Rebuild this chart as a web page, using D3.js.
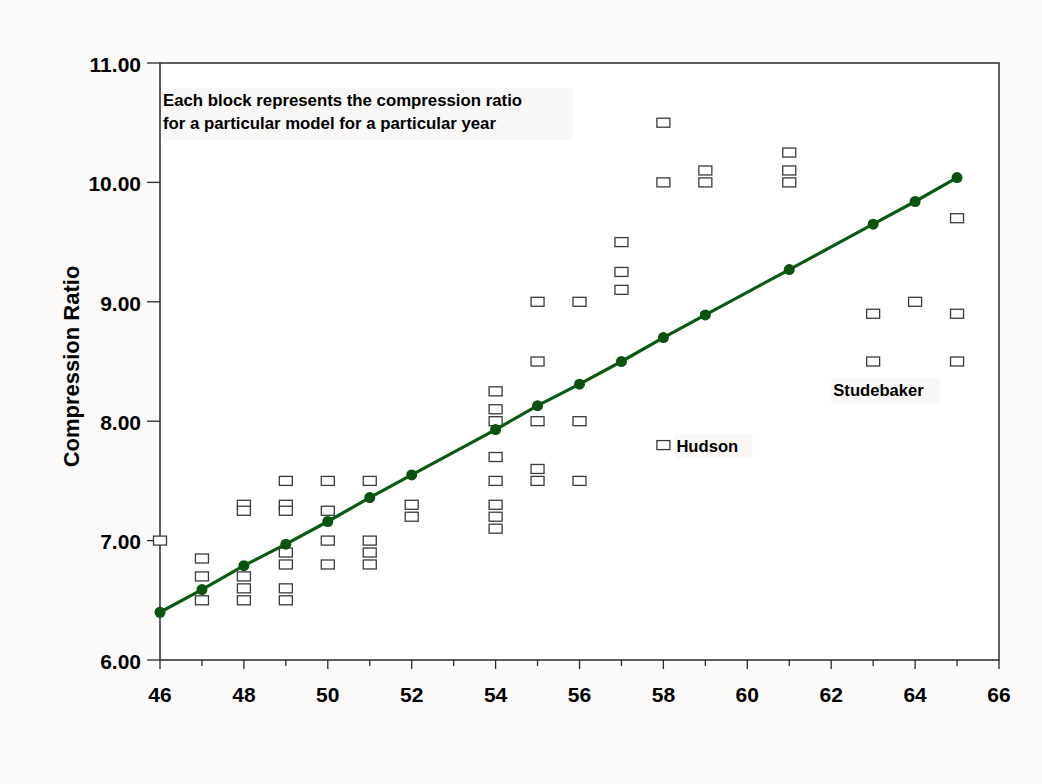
<!DOCTYPE html>
<html>
<head>
<meta charset="utf-8">
<script src="https://cdn.jsdelivr.net/npm/d3@7"></script>
<style>
  body { margin: 0; background: #fbfaf8; }
  svg { display: block; }
</style>
</head>
<body>
<div id="chart"></div>
<script>
// compression ratio per model per year (one entry per block)
const blockYears = [
  46,
  47, 47, 47,
  48, 48, 48, 48, 48,
  49, 49, 49, 49, 49, 49, 49,
  50, 50, 50, 50,
  51, 51, 51, 51,
  52, 52,
  54, 54, 54, 54, 54, 54, 54, 54,
  55, 55, 55, 55, 55,
  56, 56, 56,
  57, 57, 57,
  58, 58, 58,
  59, 59,
  61, 61, 61,
  63, 63,
  64,
  65, 65, 65
];
const blockRatios = [
  7.0,
  6.85, 6.7, 6.5,
  7.3, 7.25, 6.7, 6.6, 6.5,
  7.5, 7.3, 7.25, 6.9, 6.8, 6.6, 6.5,
  7.5, 7.25, 7.0, 6.8,
  7.5, 7.0, 6.9, 6.8,
  7.3, 7.2,
  8.25, 8.1, 8.0, 7.7, 7.5, 7.3, 7.2, 7.1,
  9.0, 8.5, 8.0, 7.6, 7.5,
  9.0, 8.0, 7.5,
  9.5, 9.25, 9.1,
  10.5, 10.0, 7.8,
  10.1, 10.0,
  10.25, 10.1, 10.0,
  8.9, 8.5,
  9.0,
  9.7, 8.9, 8.5
];

// fitted trend line points
const trendYears = [46, 47, 48, 49, 50, 51, 52, 54, 55, 56, 57, 58, 59, 61, 63, 64, 65];
const trendRatios = [6.40, 6.59, 6.79, 6.97, 7.16, 7.36, 7.55, 7.93, 8.13, 8.31, 8.50, 8.70, 8.89, 9.27, 9.65, 9.84, 10.04];

const xTicks = d3.range(46, 67, 1);
const xLabels = [46, 48, 50, 52, 54, 56, 58, 60, 62, 64, 66];
const yTicks = [6, 7, 8, 9, 10, 11];

const noteLines = ['Each block represents the compression ratio', 'for a particular model for a particular year'];
const callouts = [
  { label: 'Hudson', year: 58, ratio: 7.8, side: 'right' },
  { label: 'Studebaker', year: 62.05, ratio: 8.21, side: 'free' }
];

const svgWidth = 1042, svgHeight = 784;
const margin = { top: 63, right: 43, bottom: 124, left: 160 };
const width = svgWidth - margin.left - margin.right;
const height = svgHeight - margin.top - margin.bottom;
const font = 'Liberation Sans, Arial, sans-serif';

const svg = d3.select('#chart').append('svg')
  .attr('width', svgWidth)
  .attr('height', svgHeight);

svg.append('rect')
  .attr('width', svgWidth).attr('height', svgHeight)
  .attr('fill', '#fbfaf8');

const chart = svg.append('g')
  .attr('transform', `translate(${margin.left}, ${margin.top})`);

chart.append('rect')
  .attr('width', width).attr('height', height)
  .attr('fill', '#ffffff');

const xScale = d3.scaleLinear().domain([46, 66]).range([0, width]);
const yScale = d3.scaleLinear().domain([6, 11]).range([height, 0]);

// frame
chart.append('rect')
  .attr('width', width).attr('height', height)
  .attr('fill', 'none')
  .attr('stroke', '#2a2a2a')
  .attr('stroke-width', 1.5);

// x axis with major / minor ticks
const xAxis = chart.append('g')
  .attr('transform', `translate(0, ${height})`);
xAxis.selectAll('line')
  .data(xTicks)
  .enter().append('line')
  .attr('x1', d => xScale(d)).attr('x2', d => xScale(d))
  .attr('y1', 0)
  .attr('y2', d => d % 2 === 0 ? 9 : 6)
  .attr('stroke', '#2a2a2a').attr('stroke-width', 1.3);
xAxis.selectAll('text')
  .data(xLabels)
  .enter().append('text')
  .attr('x', d => xScale(d))
  .attr('y', 42)
  .attr('text-anchor', 'middle')
  .attr('font-family', font)
  .attr('font-weight', 'bold')
  .attr('font-size', '21px')
  .text(d => d);

// y axis
const yAxis = chart.append('g');
yAxis.selectAll('line')
  .data(yTicks)
  .enter().append('line')
  .attr('x1', -13).attr('x2', 0)
  .attr('y1', d => yScale(d)).attr('y2', d => yScale(d))
  .attr('stroke', '#2a2a2a').attr('stroke-width', 1.3);
yAxis.selectAll('text')
  .data(yTicks)
  .enter().append('text')
  .attr('x', -19)
  .attr('y', d => yScale(d))
  .attr('dy', '0.42em')
  .attr('text-anchor', 'end')
  .attr('font-family', font)
  .attr('font-weight', 'bold')
  .attr('font-size', '21px')
  .text(d => d.toFixed(2));

svg.append('text')
  .attr('transform', `translate(79, ${margin.top + height / 2 + 5}) rotate(-90)`)
  .attr('text-anchor', 'middle')
  .attr('font-family', font)
  .attr('font-weight', 'bold')
  .attr('font-size', '22px')
  .text('Compression Ratio');

// note box
const note = chart.append('g').attr('transform', 'translate(1, 25)');
note.append('rect')
  .attr('width', 412).attr('height', 52)
  .attr('fill', '#f9f8f7');
note.selectAll('text')
  .data(noteLines)
  .enter().append('text')
  .attr('x', 2)
  .attr('y', (d, i) => 18 + i * 23)
  .attr('font-family', font)
  .attr('font-weight', 'bold')
  .attr('font-size', '16.8px')
  .text(d => d);

// blocks
const blocks = blockYears.map((y, i) => ({ year: y, ratio: blockRatios[i] }));
chart.selectAll('.block')
  .data(blocks)
  .enter().append('rect')
  .attr('class', 'block')
  .attr('x', d => xScale(d.year) - 6.5)
  .attr('y', d => yScale(d.ratio) - 4.5)
  .attr('width', 13).attr('height', 9)
  .attr('fill', '#ffffff')
  .attr('stroke', '#3a3a3a')
  .attr('stroke-width', 1.3);

// callout labels
callouts.forEach(c => {
  const cx = xScale(c.year), cy = yScale(c.ratio);
  const g = chart.append('g');
  let tx, ty, bw;
  if (c.side === 'right') {
    tx = cx + 13; ty = cy + 6.5; bw = 78;
  } else {
    tx = cx; ty = cy; bw = 109;
  }
  g.append('rect')
    .attr('x', tx - 2).attr('y', ty - 18)
    .attr('width', bw).attr('height', 25)
    .attr('fill', '#f9f8f7');
  g.append('text')
    .attr('x', tx).attr('y', ty)
    .attr('font-family', font)
    .attr('font-weight', 'bold')
    .attr('font-size', '16.6px')
    .text(c.label);
});

// trend line
const trend = trendYears.map((y, i) => ({ year: y, ratio: trendRatios[i] }));
const line = d3.line()
  .curve(d3.curveLinear)
  .x(d => xScale(d.year))
  .y(d => yScale(d.ratio));

chart.append('path')
  .attr('d', line(trend))
  .attr('fill', 'none')
  .attr('stroke', '#0b5a12')
  .attr('stroke-width', 3.2);

chart.selectAll('.pt')
  .data(trend)
  .enter().append('circle')
  .attr('class', 'pt')
  .attr('cx', d => xScale(d.year))
  .attr('cy', d => yScale(d.ratio))
  .attr('r', 5.5)
  .attr('fill', '#0a520f');
</script>
</body>
</html>
